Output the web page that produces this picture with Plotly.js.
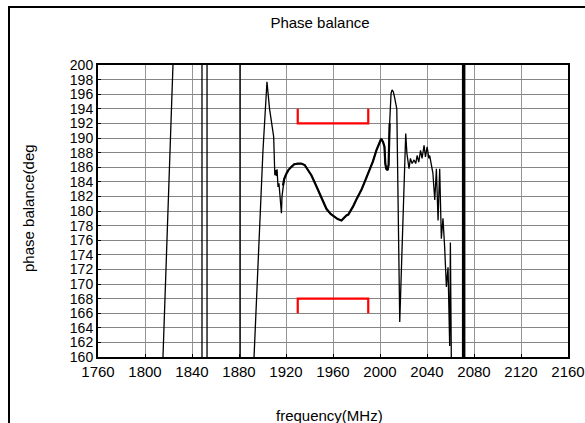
<!DOCTYPE html>
<html>
<head>
<meta charset="utf-8">
<script src="https://cdn.plot.ly/plotly-3.0.1.min.js"></script>
<style>
  html, body { margin: 0; padding: 0; overflow: hidden; background: #fff; }
  #wrap { position: relative; width: 585px; height: 423px; }
  #chart { width: 585px; height: 423px; }
  #frame { position: absolute; left: 8px; top: 6px; width: 700px; height: 600px;
           border: 2px solid #000; pointer-events: none; }
</style>
</head>
<body>
<div id="wrap">
  <div id="chart"></div>
  <div id="frame"></div>
</div>
<script>
// Measured phase balance (deg) vs frequency (MHz); values outside 160..200 are wrap-arounds
const freq = [
  1812, 1815.3, 1823.8, 1826, 1848.5, 1848.5, 1852.8, 1852.8, 1881, 1881,
  1892.8, 1897.4, 1900.4, 1903.8, 1906, 1909.5, 1910.5, 1911.2, 1911.8, 1912.4,
  1913.2, 1914, 1915, 1916.1, 1916.6, 1917.4, 1918.5, 1920.3, 1922, 1924.6,
  1927, 1930.2, 1933, 1935.9, 1938.5, 1941.6, 1945, 1948.7, 1951.5, 1954.4,
  1958, 1961.5, 1964, 1967.2, 1969, 1971.4, 1973, 1974.5, 1977, 1980,
  1984.2, 1987.5, 1991.2, 1994, 1996.9, 1999, 2001, 2002.5, 2003.8, 2004.5,
  2005.3, 2006.5, 2007.3, 2008.2, 2009.4, 2010.3, 2011.4, 2012.5, 2014.3, 2016.8,
  2021.9, 2022.9, 2024.7, 2025.9, 2027.3, 2029, 2030.4, 2031.6, 2033, 2034.5,
  2035.8, 2037.5, 2038.7, 2040.1, 2041.6, 2042.3, 2043.8, 2045, 2046.6, 2048,
  2049.4, 2050.8, 2052.2, 2053.6, 2055, 2056.5, 2057.9, 2059.3, 2059.9, 2060.7,
  2061.2
];
const phase = [
  146, 160, 200, 210, 212, 150, 150, 212, 212, 150,
  160, 178.7, 188.3, 197.7, 194, 190.2, 184.9, 185.6, 184.8, 185.7,
  183.3, 183.8, 181.5, 179.7, 182, 183.5, 184.4, 185.1, 185.6, 186.05,
  186.4, 186.5, 186.5, 186.3, 185.7, 184.9, 183.7, 182.4, 181.3, 180.3,
  179.6, 179.2, 178.9, 178.7, 179.0, 179.4, 179.5, 179.9, 180.6, 181.6,
  182.9, 184.2, 185.6, 186.8, 188.3, 189.2, 189.9, 189.5, 188.8, 186.5,
  185.8, 185.6, 186.3, 192, 196.1, 196.6, 196.3, 195.5, 194.0, 164.8,
  190.6, 187.9, 185.8, 187.2, 186.5, 187.0, 186.5, 187.6, 186.7, 188.3,
  187.2, 189.0, 187.4, 188.8, 187.2, 187.6, 186.05, 185.2, 181.5, 185.8,
  178.7, 185.8, 176.2, 179.0, 175.1, 169.6, 172.3, 161.5, 175.7, 160,
  150
];
// Wrap-around marker near 2072 MHz
const wrapFreq = [2071.2, 2071.2];
const wrapPhase = [150, 212];
// Specification limit brackets
const specUpFreq = [1930, 1930, 1990, 1990];
const specUpPhase = [194, 192, 192, 194];
const specLoFreq = [1930, 1930, 1990, 1990];
const specLoPhase = [166, 168, 168, 166];
// Axis ticks
const xTicks = [1760, 1800, 1840, 1880, 1920, 1960, 2000, 2040, 2080, 2120, 2160];
const yTicks = [160,162,164,166,168,170,172,174,176,178,180,182,184,186,188,190,192,194,196,198,200];

// densely sampled (thicker-looking) part of the measured curve
const denseIdx = [];
freq.forEach((f, i) => { if (f >= 1917 && f <= 2008.5) denseIdx.push(i); });

const font = 'Liberation Sans, Arial, sans-serif';
const traces = [
  { x: freq, y: phase, mode: 'lines', line: { color: '#000', width: 1.3 } },
  { x: denseIdx.map(i => freq[i]), y: denseIdx.map(i => phase[i]), mode: 'lines',
    line: { color: '#000', width: 2.2 } },
  { x: wrapFreq, y: wrapPhase, mode: 'lines', line: { color: '#000', width: 3.5 } },
  { x: specUpFreq, y: specUpPhase, mode: 'lines', line: { color: '#ff0000', width: 2.2 } },
  { x: specLoFreq, y: specLoPhase, mode: 'lines', line: { color: '#ff0000', width: 2.2 } }
];
const layout = {
  width: 585, height: 423,
  margin: { l: 98, r: 17, t: 65, b: 66, pad: 0 },
  paper_bgcolor: '#fff', plot_bgcolor: '#fff',
  showlegend: false,
  font: { family: font, color: '#000', size: 15 },
  title: { text: 'Phase balance', font: { family: font, size: 15, color: '#000' },
           xref: 'container', yref: 'container', x: 320/585, y: 1 - 23/423,
           xanchor: 'center', yanchor: 'middle' },
  xaxis: {
    range: [1760, 2160], tickmode: 'array', tickvals: xTicks, ticktext: xTicks.map(String),
    showgrid: true, gridcolor: '#959595', gridwidth: 1,
    showline: true, linecolor: '#000', linewidth: 2, mirror: true,
    ticks: 'inside', ticklen: 3, tickcolor: '#000', zeroline: false,
    tickfont: { family: font, size: 15, color: '#000' }
  },
  yaxis: {
    range: [160, 200], tickmode: 'array', tickvals: yTicks, ticktext: yTicks.map(String),
    showgrid: true, gridcolor: '#858585', gridwidth: 1,
    showline: true, linecolor: '#000', linewidth: 2, mirror: true,
    ticks: 'inside', ticklen: 3, tickcolor: '#000', zeroline: false,
    tickfont: { family: font, size: 14, color: '#000' }
  },
  annotations: [
    { text: 'frequency(MHz)', xref: 'paper', yref: 'paper', x: (329-98)/470, y: (357-415)/292,
      xanchor: 'center', yanchor: 'middle', showarrow: false, font: { family: font, size: 15, color: '#000' } },
    { text: 'phase balance(deg', xref: 'paper', yref: 'paper', x: (28-98)/470, y: (357-208)/292,
      xanchor: 'center', yanchor: 'middle', textangle: -90, showarrow: false,
      font: { family: font, size: 15, color: '#000' } }
  ]
};
Plotly.newPlot('chart', traces, layout, { displayModeBar: false, staticPlot: true });
</script>
</body>
</html>
